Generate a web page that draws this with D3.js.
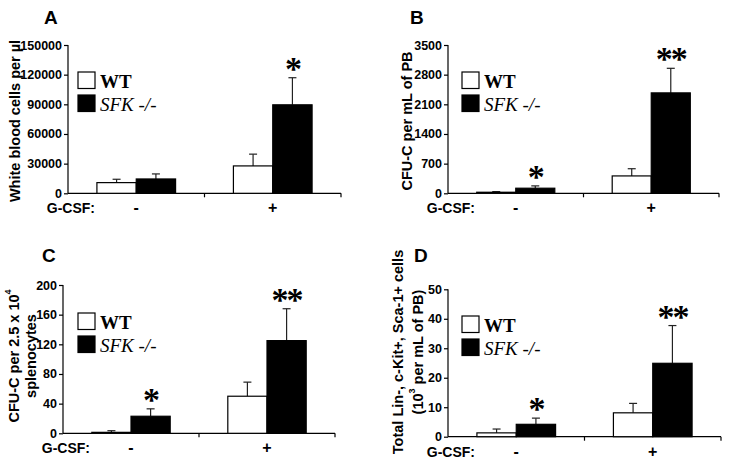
<!DOCTYPE html>
<html><head><meta charset="utf-8">
<script src="https://cdn.jsdelivr.net/npm/d3@7"></script>
<style>body{margin:0;background:#fff} svg{display:block}</style>
</head><body>
<svg id="chart" width="729" height="469"></svg>
<script>
// ---------- data ----------
const groups = ["-", "+"];
const seriesNames = ["WT", "SFK -/-"];

const aTicks = [0, 30000, 60000, 90000, 120000, 150000];
const aWT = [10800, 27700];
const aWTErr = [3400, 11900];
const aSFK = [14500, 89500];
const aSFKErr = [5100, 27400];
const aStars = ["", "*"];

const bTicks = [0, 700, 1400, 2100, 2800, 3500];
const bWT = [25, 410];
const bWTErr = [15, 170];
const bSFK = [120, 2370];
const bSFKErr = [55, 580];
const bStars = ["*", "**"];

const cTicks = [0, 40, 80, 120, 160, 200];
const cWT = [1.3, 50];
const cWTErr = [2.2, 19];
const cSFK = [23, 125];
const cSFKErr = [10, 43];
const cStars = ["*", "**"];

const dTicks = [0, 10, 20, 30, 40, 50];
const dWT = [1.3, 8.1];
const dWTErr = [1.3, 3.2];
const dSFK = [4.2, 24.9];
const dSFKErr = [2.1, 12.8];
const dStars = ["*", "**"];

// ---------- layout ----------
const panels = [
  {letter:"A", lx:44, ly:24, axisX:68, axisEnd:341, yTop:45, yBot:193.3,
   ticks:aTicks, wt:aWT, wtErr:aWTErr, sfk:aSFK, sfkErr:aSFKErr, stars:aStars,
   title:[["White blood cells per µl"]], titleX:[14.5], titleY:121, legX:78, legY:72},
  {letter:"B", lx:410, ly:24, axisX:448, axisEnd:719, yTop:45, yBot:193.3,
   ticks:bTicks, wt:bWT, wtErr:bWTErr, sfk:bSFK, sfkErr:bSFKErr, stars:bStars,
   title:[["CFU-C per mL of PB"]], titleX:[406.5], titleY:121, legX:462, legY:72},
  {letter:"C", lx:42, ly:262, axisX:63, axisEnd:335, yTop:285, yBot:433.3,
   ticks:cTicks, wt:cWT, wtErr:cWTErr, sfk:cSFK, sfkErr:cSFKErr, stars:cStars,
   title:[["CFU-C per 2.5 x 10", "4"], ["splenocytes"]], titleX:[13.5, 30.5], titleY:356, legX:78, legY:313},
  {letter:"D", lx:414, ly:262, axisX:448, axisEnd:721, yTop:289.3, yBot:436.7,
   ticks:dTicks, wt:dWT, wtErr:dWTErr, sfk:dSFK, sfkErr:dSFKErr, stars:dStars,
   title:[["Total Lin-, c-Kit+, Sca-1+ cells"], ["(10", "3", " per mL of PB)"]], titleX:[398, 418], titleY:352, legX:462, legY:316}
];

const svg = d3.select("#chart");
const sans = "Arial, 'Liberation Sans', Helvetica, sans-serif";
const serif = "'Liberation Serif', 'Times New Roman', serif";

panels.forEach(p => {
  const g = svg.append("g");
  const y = d3.scaleLinear().domain([0, p.ticks[p.ticks.length-1]]).range([p.yBot, p.yTop]);
  const x0 = d3.scaleBand().domain(groups).range([p.axisX, p.axisEnd]).padding(0);
  const x1 = d3.scaleBand().domain(seriesNames).range([0, x0.bandwidth()]).paddingInner(0).paddingOuter(0.735);

  // panel letter
  g.append("text").attr("x", p.lx).attr("y", p.ly).text(p.letter)
    .attr("font-family", sans).attr("font-weight", "bold").attr("font-size", 19);

  // y axis
  const yAx = g.append("g").attr("transform", `translate(${p.axisX},0)`)
    .call(d3.axisLeft(y).tickValues(p.ticks).tickSize(4).tickPadding(2).tickFormat(d3.format("d")));
  yAx.select(".domain").attr("d", `M0,${p.yBot}V${p.yTop}`).attr("stroke", "#000").attr("stroke-width", 1.2);
  yAx.selectAll(".tick line").attr("stroke", "#000").attr("stroke-width", 1.2);
  yAx.selectAll(".tick text").attr("font-family", sans).attr("font-weight", "bold").attr("font-size", 12.5).attr("fill", "#000");

  // x axis
  g.append("line").attr("x1", p.axisX).attr("x2", p.axisEnd).attr("y1", p.yBot).attr("y2", p.yBot)
    .attr("stroke", "#000").attr("stroke-width", 1.2);
  g.selectAll(".xt").data(groups).enter().append("line")
    .attr("x1", d => x0(d) + x0.bandwidth()).attr("x2", d => x0(d) + x0.bandwidth())
    .attr("y1", p.yBot).attr("y2", p.yBot + 4).attr("stroke", "#000").attr("stroke-width", 1.2);
  g.selectAll(".xl").data(groups).enter().append("text")
    .attr("x", d => x0(d) + x0.bandwidth()/2).attr("y", p.yBot + 20)
    .attr("text-anchor", "middle").attr("font-family", sans).attr("font-weight", "bold").attr("font-size", 16)
    .text(d => d);
  g.append("text").attr("x", p.axisX + 27).attr("y", p.yBot + 20).attr("text-anchor", "end")
    .attr("font-family", sans).attr("font-weight", "bold").attr("font-size", 14).text("G-CSF:");

  // y title
  p.title.forEach((parts, i) => {
    const t = g.append("text").attr("transform", `translate(${p.titleX[i]},${p.titleY}) rotate(-90)`)
      .attr("text-anchor", "middle").attr("dominant-baseline", "central")
      .attr("font-family", sans).attr("font-weight", "bold").attr("font-size", 14.5);
    parts.forEach((s, j) => {
      const ts = t.append("tspan").text(s);
      if (j === 1) ts.attr("font-size", 9).attr("dy", -6);
      else if (j === 2) ts.attr("dy", 6);
    });
  });

  // bars
  const rows = groups.map((grp, i) => [
    {grp, s: seriesNames[0], v: p.wt[i], e: p.wtErr[i], star: ""},
    {grp, s: seriesNames[1], v: p.sfk[i], e: p.sfkErr[i], star: p.stars[i]}
  ]).flat();

  rows.forEach(r => {
    const cx = x0(r.grp) + x1(r.s) + x1.bandwidth()/2;
    g.append("line").attr("x1", cx).attr("x2", cx).attr("y1", y(r.v)).attr("y2", y(r.v + r.e))
      .attr("stroke", "#222").attr("stroke-width", 1.2);
    g.append("line").attr("x1", cx - 4).attr("x2", cx + 4).attr("y1", y(r.v + r.e)).attr("y2", y(r.v + r.e))
      .attr("stroke", "#222").attr("stroke-width", 1.2);
  });
  g.selectAll(".bar").data(rows).enter().append("rect")
    .attr("x", d => x0(d.grp) + x1(d.s))
    .attr("y", d => y(d.v))
    .attr("width", x1.bandwidth())
    .attr("height", d => p.yBot - y(d.v))
    .attr("fill", d => d.s === "WT" ? "#fff" : "#000")
    .attr("stroke", "#000").attr("stroke-width", 1.2);

  // stars
  rows.filter(r => r.star).forEach(r => {
    const cx = x0(r.grp) + x1(r.s) + x1.bandwidth()/2;
    g.append("text").attr("x", cx).attr("y", y(r.v + r.e) + 2)
      .attr("text-anchor", "middle").attr("font-family", serif).attr("font-weight", "bold")
      .attr("font-size", 34).attr("letter-spacing", -2).text(r.star);
  });

  // legend
  seriesNames.forEach((s, i) => {
    g.append("rect").attr("x", p.legX).attr("y", p.legY + i*23).attr("width", 17).attr("height", 16.5)
      .attr("fill", i === 0 ? "#fff" : "#000").attr("stroke", "#000").attr("stroke-width", 1.2);
    g.append("text").attr("x", p.legX + 22).attr("y", p.legY + i*23 + 15.5)
      .attr("font-family", serif).attr("font-size", 19)
      .attr("font-weight", i === 0 ? "bold" : "normal")
      .attr("font-style", i === 0 ? "normal" : "italic")
      .text(s);
  });
});
</script>
</body></html>
